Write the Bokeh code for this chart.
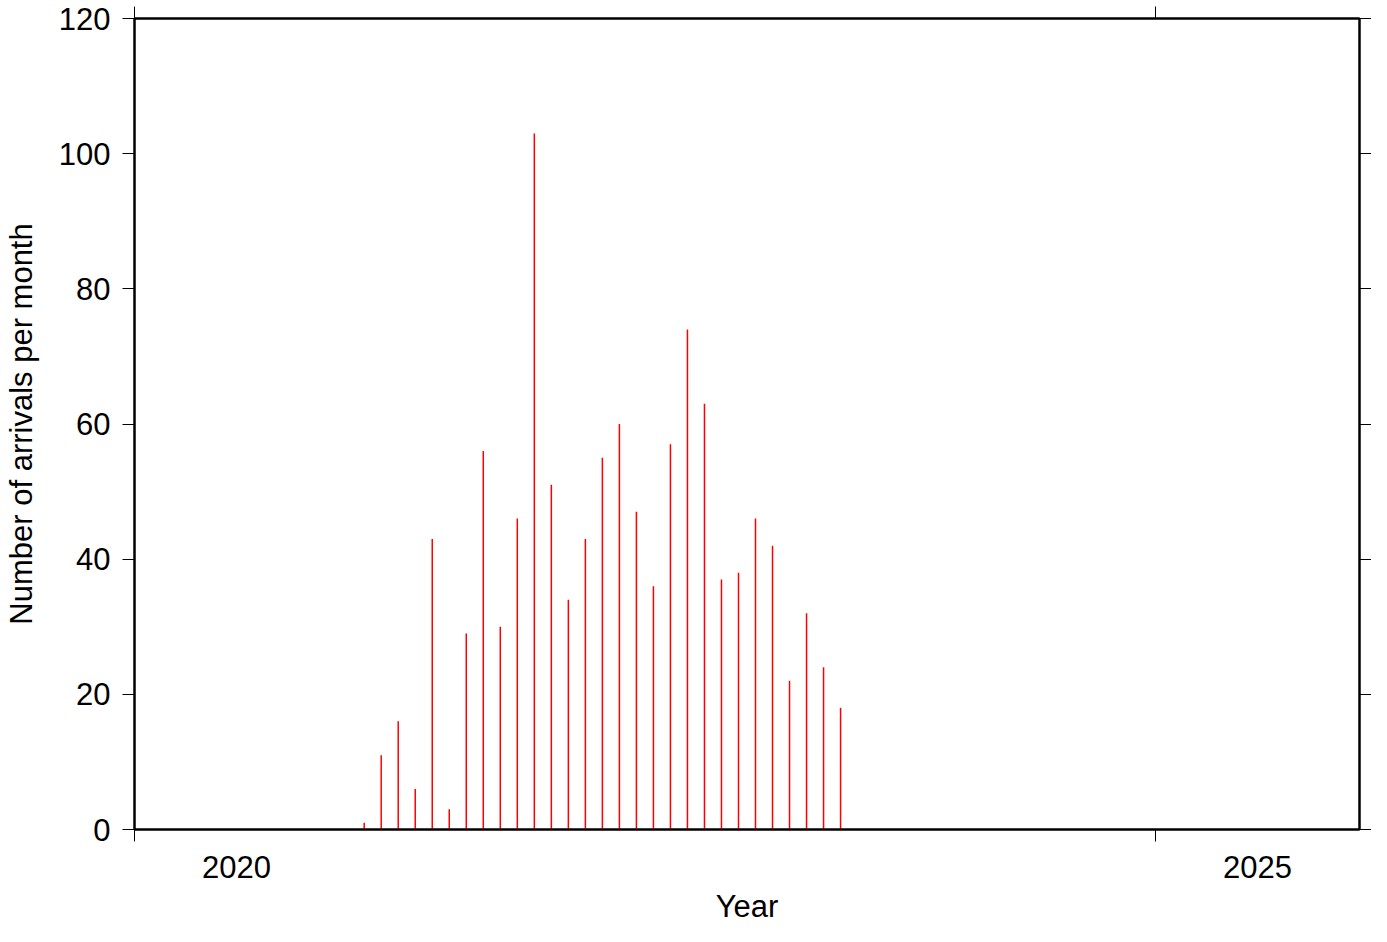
from bokeh.plotting import figure
from bokeh.models import Range1d, LinearAxis, FixedTicker, CustomJSTickFormatter, ColumnDataSource
from bokeh.embed import file_html
from bokeh.resources import INLINE

# Monthly arrival counts (month centre positions)
months = ["2021-02", "2021-03", "2021-04", "2021-05", "2021-06", "2021-07", "2021-08",
          "2021-09", "2021-10", "2021-11", "2021-12", "2022-01", "2022-02", "2022-03",
          "2022-04", "2022-05", "2022-06", "2022-07", "2022-08", "2022-09", "2022-10",
          "2022-11", "2022-12", "2023-01", "2023-02", "2023-03", "2023-04", "2023-05",
          "2023-06"]
counts = [1, 11, 16, 6, 43, 3, 29, 56, 30, 46, 103, 51, 34, 43, 55, 60, 47, 36, 57,
          74, 63, 37, 38, 46, 42, 22, 32, 24, 18]
x_tick_years = [2020, 2025]
x_label_years = [2020.5, 2025.5]
y_ticks = [0, 20, 40, 60, 80, 100, 120]

xs = [int(m[:4]) + (int(m[5:]) - 0.5) / 12.0 for m in months]
src = ColumnDataSource(dict(x=xs, base=[0] * len(xs), top=counts))

FONT = "Liberation Sans"
FS = "31px"

p = figure(width=1371, height=926,
           x_range=Range1d(2020, 2026), y_range=Range1d(0, 120),
           output_backend="svg", toolbar_location=None,
           x_axis_location=None, y_axis_location=None)
p.grid.visible = False
p.background_fill_color = "white"
p.border_fill_color = "white"
p.outline_line_color = "black"
p.outline_line_width = 2
p.min_border_left = 126
p.min_border_right = 0
p.min_border_top = 18
p.min_border_bottom = 0

p.segment(x0="x", y0="base", x1="x", y1="top", source=src,
          line_color="red", line_width=1.5)


def style(ax):
    ax.axis_line_color = "black"
    ax.axis_line_width = 2
    ax.major_tick_line_color = "black"
    ax.major_tick_line_width = 1
    ax.minor_tick_line_color = "black"
    ax.minor_tick_line_width = 1
    ax.major_tick_in = 0
    ax.minor_tick_in = 0
    ax.major_label_text_font = FONT
    ax.major_label_text_font_size = FS
    ax.major_label_text_color = "black"
    ax.axis_label_text_font = FONT
    ax.axis_label_text_font_size = FS
    ax.axis_label_text_font_style = "normal"
    ax.axis_label_text_color = "black"


empty = CustomJSTickFormatter(code="return '';")

# bottom: labels centred in year, ticks at year boundaries (minor ticks)
bottom = LinearAxis(ticker=FixedTicker(ticks=x_label_years, minor_ticks=x_tick_years),
                    formatter=CustomJSTickFormatter(code="return String(Math.floor(tick));"),
                    axis_label="Year")
style(bottom)
bottom.major_tick_out = 0
bottom.minor_tick_out = 12
bottom.major_label_standoff = 14
bottom.axis_label_standoff = 8
p.add_layout(bottom, "below")

top = LinearAxis(ticker=FixedTicker(ticks=[], minor_ticks=x_tick_years), formatter=empty)
style(top)
top.major_tick_out = 0
top.minor_tick_out = 12
top.major_label_standoff = 0
p.add_layout(top, "above")

left = LinearAxis(ticker=FixedTicker(ticks=y_ticks, minor_ticks=[]),
                  axis_label="Number of arrivals per month")
style(left)
left.major_tick_out = 12
left.minor_tick_out = 0
left.major_label_standoff = 12
left.axis_label_standoff = 17
p.add_layout(left, "left")

right = LinearAxis(ticker=FixedTicker(ticks=y_ticks, minor_ticks=[]), formatter=empty)
style(right)
right.major_tick_out = 12
right.minor_tick_out = 0
right.major_label_standoff = 0
p.add_layout(right, "right")

open("out.html", "w").write(file_html(p, INLINE))
